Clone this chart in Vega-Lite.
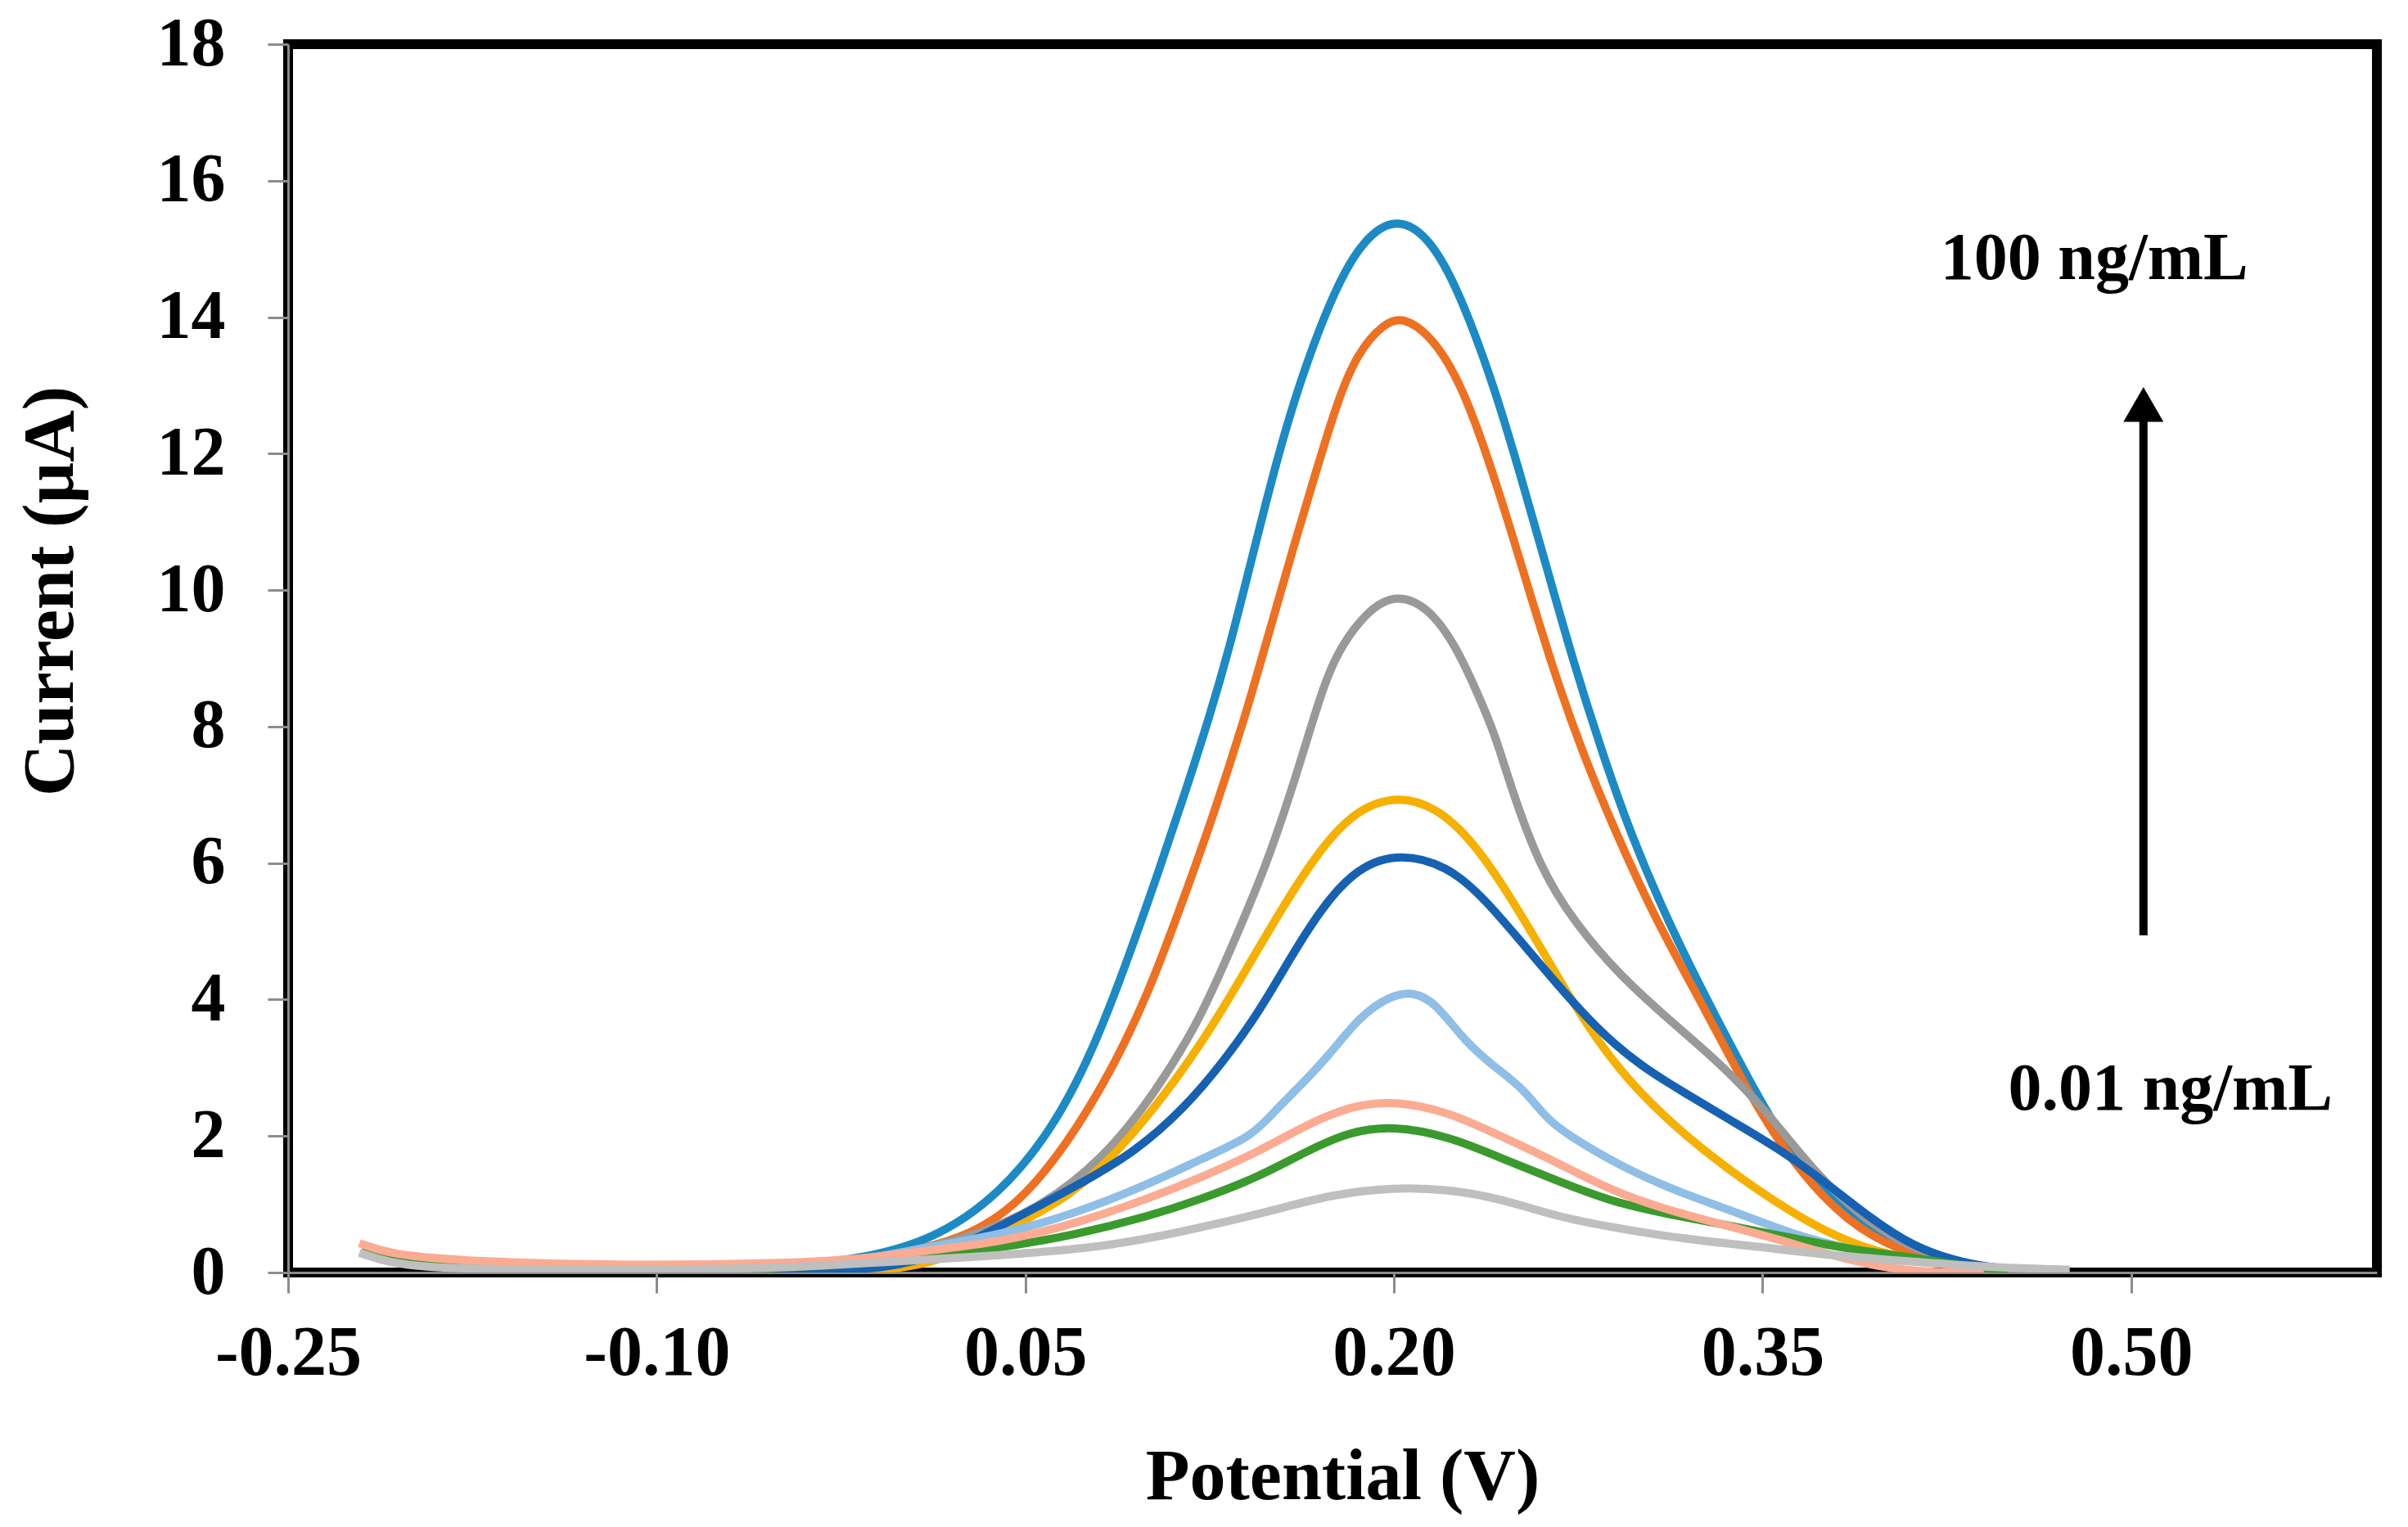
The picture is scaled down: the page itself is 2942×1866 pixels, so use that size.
{
  "$schema": "https://vega.github.io/schema/vega-lite/v6.json",
  "width": 2552,
  "height": 1501,
  "autosize": {"type": "none"},
  "padding": {"left": 352, "top": 54, "right": 38, "bottom": 311},
  "background": "white",
  "config": {
    "font": "Liberation Serif",
    "view": {"stroke": "black", "strokeWidth": 12},
    "axis": {
      "grid": false,
      "domainColor": "#8c8c8c",
      "domainWidth": 3,
      "tickColor": "#8c8c8c",
      "tickWidth": 3,
      "tickSize": 25,
      "labelColor": "black",
      "labelFontWeight": "bold",
      "labelFont": "Liberation Serif",
      "titleFont": "Liberation Serif",
      "titleColor": "black",
      "titleFontWeight": "bold",
      "titleFontSize": 88,
      "labelOverlap": false,
      "labelFlush": false
    }
  },
  "datasets": {
    "curves": [
      {"series": "100 ng/mL", "potential": -0.22, "current": 0.32},
      {"series": "100 ng/mL", "potential": -0.2, "current": 0.16},
      {"series": "100 ng/mL", "potential": -0.17, "current": 0.07},
      {"series": "100 ng/mL", "potential": -0.13, "current": 0.03},
      {"series": "100 ng/mL", "potential": -0.09, "current": 0.03},
      {"series": "100 ng/mL", "potential": -0.05, "current": 0.08},
      {"series": "100 ng/mL", "potential": -0.02, "current": 0.18},
      {"series": "100 ng/mL", "potential": 0.011, "current": 0.44},
      {"series": "100 ng/mL", "potential": 0.04, "current": 1.14},
      {"series": "100 ng/mL", "potential": 0.063, "current": 2.2},
      {"series": "100 ng/mL", "potential": 0.079, "current": 3.38},
      {"series": "100 ng/mL", "potential": 0.092, "current": 4.62},
      {"series": "100 ng/mL", "potential": 0.104, "current": 5.85},
      {"series": "100 ng/mL", "potential": 0.115, "current": 7.03},
      {"series": "100 ng/mL", "potential": 0.125, "current": 8.15},
      {"series": "100 ng/mL", "potential": 0.133, "current": 9.15},
      {"series": "100 ng/mL", "potential": 0.14, "current": 10.15},
      {"series": "100 ng/mL", "potential": 0.148, "current": 11.3},
      {"series": "100 ng/mL", "potential": 0.155, "current": 12.25},
      {"series": "100 ng/mL", "potential": 0.164, "current": 13.3},
      {"series": "100 ng/mL", "potential": 0.177, "current": 14.5},
      {"series": "100 ng/mL", "potential": 0.188, "current": 15.15},
      {"series": "100 ng/mL", "potential": 0.2, "current": 15.45},
      {"series": "100 ng/mL", "potential": 0.212, "current": 15.25},
      {"series": "100 ng/mL", "potential": 0.222, "current": 14.7},
      {"series": "100 ng/mL", "potential": 0.231, "current": 13.95},
      {"series": "100 ng/mL", "potential": 0.241, "current": 12.95},
      {"series": "100 ng/mL", "potential": 0.251, "current": 11.75},
      {"series": "100 ng/mL", "potential": 0.262, "current": 10.35},
      {"series": "100 ng/mL", "potential": 0.273, "current": 8.95},
      {"series": "100 ng/mL", "potential": 0.284, "current": 7.7},
      {"series": "100 ng/mL", "potential": 0.296, "current": 6.45},
      {"series": "100 ng/mL", "potential": 0.312, "current": 5.1},
      {"series": "100 ng/mL", "potential": 0.33, "current": 3.81},
      {"series": "100 ng/mL", "potential": 0.348, "current": 2.58},
      {"series": "100 ng/mL", "potential": 0.363, "current": 1.67},
      {"series": "100 ng/mL", "potential": 0.385, "current": 0.82},
      {"series": "100 ng/mL", "potential": 0.408, "current": 0.34},
      {"series": "100 ng/mL", "potential": 0.431, "current": 0.12},
      {"series": "100 ng/mL", "potential": 0.45, "current": 0.05},
      {"series": "100 ng/mL", "potential": 0.47, "current": 0.02},

      {"series": "50 ng/mL", "potential": -0.22, "current": 0.32},
      {"series": "50 ng/mL", "potential": -0.2, "current": 0.16},
      {"series": "50 ng/mL", "potential": -0.17, "current": 0.07},
      {"series": "50 ng/mL", "potential": -0.13, "current": 0.03},
      {"series": "50 ng/mL", "potential": -0.09, "current": 0.03},
      {"series": "50 ng/mL", "potential": -0.05, "current": 0.07},
      {"series": "50 ng/mL", "potential": -0.01, "current": 0.2},
      {"series": "50 ng/mL", "potential": 0.026, "current": 0.49},
      {"series": "50 ng/mL", "potential": 0.048, "current": 1.03},
      {"series": "50 ng/mL", "potential": 0.067, "current": 1.88},
      {"series": "50 ng/mL", "potential": 0.085, "current": 2.95},
      {"series": "50 ng/mL", "potential": 0.1, "current": 4.08},
      {"series": "50 ng/mL", "potential": 0.115, "current": 5.53},
      {"series": "50 ng/mL", "potential": 0.127, "current": 6.75},
      {"series": "50 ng/mL", "potential": 0.139, "current": 8.1},
      {"series": "50 ng/mL", "potential": 0.145, "current": 8.85},
      {"series": "50 ng/mL", "potential": 0.151, "current": 9.6},
      {"series": "50 ng/mL", "potential": 0.159, "current": 10.62},
      {"series": "50 ng/mL", "potential": 0.168, "current": 11.7},
      {"series": "50 ng/mL", "potential": 0.177, "current": 12.77},
      {"series": "50 ng/mL", "potential": 0.185, "current": 13.47},
      {"series": "50 ng/mL", "potential": 0.196, "current": 13.92},
      {"series": "50 ng/mL", "potential": 0.204, "current": 14.0},
      {"series": "50 ng/mL", "potential": 0.214, "current": 13.75},
      {"series": "50 ng/mL", "potential": 0.222, "current": 13.35},
      {"series": "50 ng/mL", "potential": 0.229, "current": 12.85},
      {"series": "50 ng/mL", "potential": 0.238, "current": 11.97},
      {"series": "50 ng/mL", "potential": 0.247, "current": 10.95},
      {"series": "50 ng/mL", "potential": 0.257, "current": 9.75},
      {"series": "50 ng/mL", "potential": 0.267, "current": 8.6},
      {"series": "50 ng/mL", "potential": 0.277, "current": 7.6},
      {"series": "50 ng/mL", "potential": 0.289, "current": 6.55},
      {"series": "50 ng/mL", "potential": 0.306, "current": 5.2},
      {"series": "50 ng/mL", "potential": 0.326, "current": 3.9},
      {"series": "50 ng/mL", "potential": 0.345, "current": 2.58},
      {"series": "50 ng/mL", "potential": 0.363, "current": 1.56},
      {"series": "50 ng/mL", "potential": 0.385, "current": 0.71},
      {"series": "50 ng/mL", "potential": 0.408, "current": 0.28},
      {"series": "50 ng/mL", "potential": 0.43, "current": 0.1},
      {"series": "50 ng/mL", "potential": 0.45, "current": 0.04},
      {"series": "50 ng/mL", "potential": 0.47, "current": 0.02},

      {"series": "10 ng/mL", "potential": -0.22, "current": 0.3},
      {"series": "10 ng/mL", "potential": -0.2, "current": 0.15},
      {"series": "10 ng/mL", "potential": -0.17, "current": 0.06},
      {"series": "10 ng/mL", "potential": -0.13, "current": 0.03},
      {"series": "10 ng/mL", "potential": -0.09, "current": 0.03},
      {"series": "10 ng/mL", "potential": -0.05, "current": 0.06},
      {"series": "10 ng/mL", "potential": -0.01, "current": 0.2},
      {"series": "10 ng/mL", "potential": 0.026, "current": 0.49},
      {"series": "10 ng/mL", "potential": 0.055, "current": 0.92},
      {"series": "10 ng/mL", "potential": 0.082, "current": 1.67},
      {"series": "10 ng/mL", "potential": 0.103, "current": 2.64},
      {"series": "10 ng/mL", "potential": 0.121, "current": 3.7},
      {"series": "10 ng/mL", "potential": 0.134, "current": 4.77},
      {"series": "10 ng/mL", "potential": 0.148, "current": 5.96},
      {"series": "10 ng/mL", "potential": 0.158, "current": 7.03},
      {"series": "10 ng/mL", "potential": 0.165, "current": 7.85},
      {"series": "10 ng/mL", "potential": 0.171, "current": 8.55},
      {"series": "10 ng/mL", "potential": 0.177, "current": 9.1},
      {"series": "10 ng/mL", "potential": 0.189, "current": 9.7},
      {"series": "10 ng/mL", "potential": 0.201, "current": 9.95},
      {"series": "10 ng/mL", "potential": 0.214, "current": 9.75},
      {"series": "10 ng/mL", "potential": 0.225, "current": 9.2},
      {"series": "10 ng/mL", "potential": 0.234, "current": 8.49},
      {"series": "10 ng/mL", "potential": 0.241, "current": 7.9},
      {"series": "10 ng/mL", "potential": 0.247, "current": 7.18},
      {"series": "10 ng/mL", "potential": 0.259, "current": 5.95},
      {"series": "10 ng/mL", "potential": 0.274, "current": 5.1},
      {"series": "10 ng/mL", "potential": 0.292, "current": 4.35},
      {"series": "10 ng/mL", "potential": 0.312, "current": 3.7},
      {"series": "10 ng/mL", "potential": 0.333, "current": 3.06},
      {"series": "10 ng/mL", "potential": 0.353, "current": 2.31},
      {"series": "10 ng/mL", "potential": 0.37, "current": 1.51},
      {"series": "10 ng/mL", "potential": 0.393, "current": 0.71},
      {"series": "10 ng/mL", "potential": 0.415, "current": 0.28},
      {"series": "10 ng/mL", "potential": 0.435, "current": 0.1},
      {"series": "10 ng/mL", "potential": 0.455, "current": 0.04},

      {"series": "5 ng/mL", "potential": -0.22, "current": 0.3},
      {"series": "5 ng/mL", "potential": -0.2, "current": 0.14},
      {"series": "5 ng/mL", "potential": -0.17, "current": 0.05},
      {"series": "5 ng/mL", "potential": -0.13, "current": 0.02},
      {"series": "5 ng/mL", "potential": -0.09, "current": 0.01},
      {"series": "5 ng/mL", "potential": -0.05, "current": 0.01},
      {"series": "5 ng/mL", "potential": 0.0, "current": 0.02},
      {"series": "5 ng/mL", "potential": 0.02, "current": 0.25},
      {"series": "5 ng/mL", "potential": 0.04, "current": 0.58},
      {"series": "5 ng/mL", "potential": 0.07, "current": 1.14},
      {"series": "5 ng/mL", "potential": 0.092, "current": 1.94},
      {"series": "5 ng/mL", "potential": 0.112, "current": 2.85},
      {"series": "5 ng/mL", "potential": 0.127, "current": 3.66},
      {"series": "5 ng/mL", "potential": 0.14, "current": 4.45},
      {"series": "5 ng/mL", "potential": 0.154, "current": 5.31},
      {"series": "5 ng/mL", "potential": 0.167, "current": 6.05},
      {"series": "5 ng/mL", "potential": 0.182, "current": 6.72},
      {"series": "5 ng/mL", "potential": 0.2, "current": 7.0},
      {"series": "5 ng/mL", "potential": 0.217, "current": 6.83},
      {"series": "5 ng/mL", "potential": 0.232, "current": 6.33},
      {"series": "5 ng/mL", "potential": 0.247, "current": 5.53},
      {"series": "5 ng/mL", "potential": 0.262, "current": 4.62},
      {"series": "5 ng/mL", "potential": 0.277, "current": 3.7},
      {"series": "5 ng/mL", "potential": 0.292, "current": 2.95},
      {"series": "5 ng/mL", "potential": 0.309, "current": 2.31},
      {"series": "5 ng/mL", "potential": 0.33, "current": 1.67},
      {"series": "5 ng/mL", "potential": 0.353, "current": 1.08},
      {"series": "5 ng/mL", "potential": 0.375, "current": 0.6},
      {"series": "5 ng/mL", "potential": 0.397, "current": 0.28},
      {"series": "5 ng/mL", "potential": 0.423, "current": 0.12},
      {"series": "5 ng/mL", "potential": 0.445, "current": 0.04},

      {"series": "1 ng/mL", "potential": -0.22, "current": 0.3},
      {"series": "1 ng/mL", "potential": -0.2, "current": 0.14},
      {"series": "1 ng/mL", "potential": -0.17, "current": 0.05},
      {"series": "1 ng/mL", "potential": -0.13, "current": 0.02},
      {"series": "1 ng/mL", "potential": -0.09, "current": 0.01},
      {"series": "1 ng/mL", "potential": -0.05, "current": 0.01},
      {"series": "1 ng/mL", "potential": -0.005, "current": 0.04},
      {"series": "1 ng/mL", "potential": 0.02, "current": 0.32},
      {"series": "1 ng/mL", "potential": 0.04, "current": 0.68},
      {"series": "1 ng/mL", "potential": 0.07, "current": 1.25},
      {"series": "1 ng/mL", "potential": 0.095, "current": 1.77},
      {"series": "1 ng/mL", "potential": 0.115, "current": 2.42},
      {"series": "1 ng/mL", "potential": 0.13, "current": 3.06},
      {"series": "1 ng/mL", "potential": 0.145, "current": 3.81},
      {"series": "1 ng/mL", "potential": 0.158, "current": 4.62},
      {"series": "1 ng/mL", "potential": 0.17, "current": 5.31},
      {"series": "1 ng/mL", "potential": 0.183, "current": 5.87},
      {"series": "1 ng/mL", "potential": 0.2, "current": 6.16},
      {"series": "1 ng/mL", "potential": 0.222, "current": 5.97},
      {"series": "1 ng/mL", "potential": 0.237, "current": 5.47},
      {"series": "1 ng/mL", "potential": 0.251, "current": 4.88},
      {"series": "1 ng/mL", "potential": 0.266, "current": 4.24},
      {"series": "1 ng/mL", "potential": 0.283, "current": 3.55},
      {"series": "1 ng/mL", "potential": 0.301, "current": 3.01},
      {"series": "1 ng/mL", "potential": 0.318, "current": 2.64},
      {"series": "1 ng/mL", "potential": 0.336, "current": 2.25},
      {"series": "1 ng/mL", "potential": 0.356, "current": 1.83},
      {"series": "1 ng/mL", "potential": 0.375, "current": 1.34},
      {"series": "1 ng/mL", "potential": 0.393, "current": 0.82},
      {"series": "1 ng/mL", "potential": 0.411, "current": 0.38},
      {"series": "1 ng/mL", "potential": 0.431, "current": 0.14},
      {"series": "1 ng/mL", "potential": 0.45, "current": 0.04},

      {"series": "0.5 ng/mL", "potential": -0.22, "current": 0.3},
      {"series": "0.5 ng/mL", "potential": -0.2, "current": 0.15},
      {"series": "0.5 ng/mL", "potential": -0.17, "current": 0.06},
      {"series": "0.5 ng/mL", "potential": -0.13, "current": 0.03},
      {"series": "0.5 ng/mL", "potential": -0.09, "current": 0.03},
      {"series": "0.5 ng/mL", "potential": -0.05, "current": 0.07},
      {"series": "0.5 ng/mL", "potential": -0.02, "current": 0.15},
      {"series": "0.5 ng/mL", "potential": 0.011, "current": 0.38},
      {"series": "0.5 ng/mL", "potential": 0.04, "current": 0.55},
      {"series": "0.5 ng/mL", "potential": 0.07, "current": 0.86},
      {"series": "0.5 ng/mL", "potential": 0.1, "current": 1.29},
      {"series": "0.5 ng/mL", "potential": 0.122, "current": 1.67},
      {"series": "0.5 ng/mL", "potential": 0.142, "current": 1.99},
      {"series": "0.5 ng/mL", "potential": 0.15, "current": 2.31},
      {"series": "0.5 ng/mL", "potential": 0.162, "current": 2.74},
      {"series": "0.5 ng/mL", "potential": 0.174, "current": 3.2},
      {"series": "0.5 ng/mL", "potential": 0.186, "current": 3.75},
      {"series": "0.5 ng/mL", "potential": 0.198, "current": 4.05},
      {"series": "0.5 ng/mL", "potential": 0.208, "current": 4.12},
      {"series": "0.5 ng/mL", "potential": 0.217, "current": 3.95},
      {"series": "0.5 ng/mL", "potential": 0.229, "current": 3.38},
      {"series": "0.5 ng/mL", "potential": 0.241, "current": 3.01},
      {"series": "0.5 ng/mL", "potential": 0.253, "current": 2.69},
      {"series": "0.5 ng/mL", "potential": 0.263, "current": 2.2},
      {"series": "0.5 ng/mL", "potential": 0.277, "current": 1.88},
      {"series": "0.5 ng/mL", "potential": 0.295, "current": 1.51},
      {"series": "0.5 ng/mL", "potential": 0.315, "current": 1.19},
      {"series": "0.5 ng/mL", "potential": 0.341, "current": 0.86},
      {"series": "0.5 ng/mL", "potential": 0.363, "current": 0.55},
      {"series": "0.5 ng/mL", "potential": 0.385, "current": 0.34},
      {"series": "0.5 ng/mL", "potential": 0.415, "current": 0.17},
      {"series": "0.5 ng/mL", "potential": 0.44, "current": 0.06},

      {"series": "0.05 ng/mL", "potential": -0.22, "current": 0.3},
      {"series": "0.05 ng/mL", "potential": -0.2, "current": 0.15},
      {"series": "0.05 ng/mL", "potential": -0.17, "current": 0.06},
      {"series": "0.05 ng/mL", "potential": -0.13, "current": 0.03},
      {"series": "0.05 ng/mL", "potential": -0.09, "current": 0.03},
      {"series": "0.05 ng/mL", "potential": -0.05, "current": 0.06},
      {"series": "0.05 ng/mL", "potential": -0.01, "current": 0.15},
      {"series": "0.05 ng/mL", "potential": 0.011, "current": 0.25},
      {"series": "0.05 ng/mL", "potential": 0.04, "current": 0.36},
      {"series": "0.05 ng/mL", "potential": 0.07, "current": 0.55},
      {"series": "0.05 ng/mL", "potential": 0.1, "current": 0.82},
      {"series": "0.05 ng/mL", "potential": 0.122, "current": 1.08},
      {"series": "0.05 ng/mL", "potential": 0.145, "current": 1.4},
      {"series": "0.05 ng/mL", "potential": 0.164, "current": 1.77},
      {"series": "0.05 ng/mL", "potential": 0.182, "current": 2.07},
      {"series": "0.05 ng/mL", "potential": 0.2, "current": 2.15},
      {"series": "0.05 ng/mL", "potential": 0.222, "current": 2.0},
      {"series": "0.05 ng/mL", "potential": 0.244, "current": 1.67},
      {"series": "0.05 ng/mL", "potential": 0.266, "current": 1.35},
      {"series": "0.05 ng/mL", "potential": 0.289, "current": 1.03},
      {"series": "0.05 ng/mL", "potential": 0.311, "current": 0.86},
      {"series": "0.05 ng/mL", "potential": 0.333, "current": 0.71},
      {"series": "0.05 ng/mL", "potential": 0.356, "current": 0.55},
      {"series": "0.05 ng/mL", "potential": 0.385, "current": 0.34},
      {"series": "0.05 ng/mL", "potential": 0.415, "current": 0.2},
      {"series": "0.05 ng/mL", "potential": 0.435, "current": 0.08},
      {"series": "0.05 ng/mL", "potential": 0.45, "current": 0.03},

      {"series": "0.1 ng/mL", "potential": -0.221, "current": 0.43},
      {"series": "0.1 ng/mL", "potential": -0.208, "current": 0.26},
      {"series": "0.1 ng/mL", "potential": -0.176, "current": 0.16},
      {"series": "0.1 ng/mL", "potential": -0.113, "current": 0.1},
      {"series": "0.1 ng/mL", "potential": -0.049, "current": 0.13},
      {"series": "0.1 ng/mL", "potential": -0.016, "current": 0.2},
      {"series": "0.1 ng/mL", "potential": 0.0, "current": 0.28},
      {"series": "0.1 ng/mL", "potential": 0.04, "current": 0.44},
      {"series": "0.1 ng/mL", "potential": 0.07, "current": 0.71},
      {"series": "0.1 ng/mL", "potential": 0.1, "current": 1.08},
      {"series": "0.1 ng/mL", "potential": 0.122, "current": 1.4},
      {"series": "0.1 ng/mL", "potential": 0.145, "current": 1.77},
      {"series": "0.1 ng/mL", "potential": 0.164, "current": 2.16},
      {"series": "0.1 ng/mL", "potential": 0.182, "current": 2.44},
      {"series": "0.1 ng/mL", "potential": 0.2, "current": 2.52},
      {"series": "0.1 ng/mL", "potential": 0.222, "current": 2.36},
      {"series": "0.1 ng/mL", "potential": 0.244, "current": 1.99},
      {"series": "0.1 ng/mL", "potential": 0.266, "current": 1.62},
      {"series": "0.1 ng/mL", "potential": 0.289, "current": 1.19},
      {"series": "0.1 ng/mL", "potential": 0.311, "current": 0.92},
      {"series": "0.1 ng/mL", "potential": 0.333, "current": 0.71},
      {"series": "0.1 ng/mL", "potential": 0.356, "current": 0.49},
      {"series": "0.1 ng/mL", "potential": 0.378, "current": 0.25},
      {"series": "0.1 ng/mL", "potential": 0.4, "current": 0.06},
      {"series": "0.1 ng/mL", "potential": 0.42, "current": 0.0},
      {"series": "0.1 ng/mL", "potential": 0.44, "current": 0.0},

      {"series": "0.01 ng/mL", "potential": -0.221, "current": 0.29},
      {"series": "0.01 ng/mL", "potential": -0.21, "current": 0.15},
      {"series": "0.01 ng/mL", "potential": -0.19, "current": 0.06},
      {"series": "0.01 ng/mL", "potential": -0.15, "current": 0.04},
      {"series": "0.01 ng/mL", "potential": -0.1, "current": 0.04},
      {"series": "0.01 ng/mL", "potential": -0.05, "current": 0.06},
      {"series": "0.01 ng/mL", "potential": 0.0, "current": 0.17},
      {"series": "0.01 ng/mL", "potential": 0.04, "current": 0.25},
      {"series": "0.01 ng/mL", "potential": 0.085, "current": 0.38},
      {"series": "0.01 ng/mL", "potential": 0.122, "current": 0.66},
      {"series": "0.01 ng/mL", "potential": 0.152, "current": 0.92},
      {"series": "0.01 ng/mL", "potential": 0.174, "current": 1.14},
      {"series": "0.01 ng/mL", "potential": 0.2, "current": 1.25},
      {"series": "0.01 ng/mL", "potential": 0.222, "current": 1.22},
      {"series": "0.01 ng/mL", "potential": 0.244, "current": 1.08},
      {"series": "0.01 ng/mL", "potential": 0.266, "current": 0.82},
      {"series": "0.01 ng/mL", "potential": 0.289, "current": 0.66},
      {"series": "0.01 ng/mL", "potential": 0.318, "current": 0.49},
      {"series": "0.01 ng/mL", "potential": 0.348, "current": 0.38},
      {"series": "0.01 ng/mL", "potential": 0.378, "current": 0.25},
      {"series": "0.01 ng/mL", "potential": 0.415, "current": 0.15},
      {"series": "0.01 ng/mL", "potential": 0.44, "current": 0.08},
      {"series": "0.01 ng/mL", "potential": 0.475, "current": 0.04}
    ],
    "labels": [
      {"potential": 0.485, "current": 14.56, "text": "100 ng/mL"},
      {"potential": 0.516, "current": 2.39, "text": "0.01 ng/mL"}
    ],
    "arrow": [
      {"potential": 0.505, "from": 4.94, "to": 12.55, "head": 12.72}
    ]
  },
  "layer": [
    {
      "data": {"name": "curves"},
      "mark": {"type": "line", "interpolate": "basis", "clip": true},
      "encoding": {
        "x": {
          "field": "potential",
          "type": "quantitative",
          "scale": {"domain": [-0.25, 0.6], "nice": false, "zero": false},
          "axis": {
            "values": [-0.25, -0.1, 0.05, 0.2, 0.35, 0.5],
            "labelExpr": "datum.value < 0 ? '-' + format(-datum.value, '.2f') : format(datum.value, '.2f')",
            "labelFontSize": 86,
            "labelBaseline": "alphabetic",
            "labelPadding": 99,
            "title": "Potential (V)",
            "titleX": 1288,
            "titleY": 276,
            "titleBaseline": "alphabetic"
          }
        },
        "y": {
          "field": "current",
          "type": "quantitative",
          "scale": {"domain": [0, 18], "nice": false},
          "axis": {
            "values": [0, 2, 4, 6, 8, 10, 12, 14, 16, 18],
            "format": "d",
            "labelFontSize": 84,
            "labelPadding": 52,
            "title": "Current (µA)",
            "titleAngle": -90,
            "titleX": -264,
            "titleY": 668,
            "titleAlign": "center",
            "titleBaseline": "alphabetic"
          }
        },
        "color": {
          "field": "series",
          "type": "nominal",
          "sort": null,
          "scale": {
            "domain": ["100 ng/mL", "50 ng/mL", "10 ng/mL", "5 ng/mL", "1 ng/mL", "0.5 ng/mL", "0.05 ng/mL", "0.1 ng/mL", "0.01 ng/mL"],
            "range": ["#1c8ac4", "#ee7021", "#999999", "#f6b000", "#1661b2", "#8fbee6", "#3a9a2e", "#fbab92", "#bfbfbf"]
          },
          "legend": null
        },
        "strokeWidth": {
          "field": "series",
          "type": "nominal",
          "scale": {
            "domain": ["100 ng/mL", "50 ng/mL", "10 ng/mL", "5 ng/mL", "1 ng/mL", "0.5 ng/mL", "0.05 ng/mL", "0.1 ng/mL", "0.01 ng/mL"],
            "range": [10, 10, 10, 10, 11, 12.5, 10.5, 12.5, 12.5]
          },
          "legend": null
        }
      }
    },
    {
      "data": {"name": "labels"},
      "mark": {"type": "text", "font": "Liberation Serif", "fontWeight": "bold", "fontSize": 82, "align": "center", "baseline": "alphabetic", "color": "black"},
      "encoding": {
        "x": {"field": "potential", "type": "quantitative"},
        "y": {"field": "current", "type": "quantitative"},
        "text": {"field": "text"}
      }
    },
    {
      "data": {"name": "arrow"},
      "mark": {"type": "rule", "color": "black", "strokeWidth": 10},
      "encoding": {
        "x": {"field": "potential", "type": "quantitative"},
        "y": {"field": "from", "type": "quantitative"},
        "y2": {"field": "to"}
      }
    },
    {
      "data": {"name": "arrow"},
      "mark": {"type": "point", "shape": "triangle-up", "filled": true, "size": 2400, "color": "black", "opacity": 1},
      "encoding": {
        "x": {"field": "potential", "type": "quantitative"},
        "y": {"field": "head", "type": "quantitative"}
      }
    }
  ]
}
